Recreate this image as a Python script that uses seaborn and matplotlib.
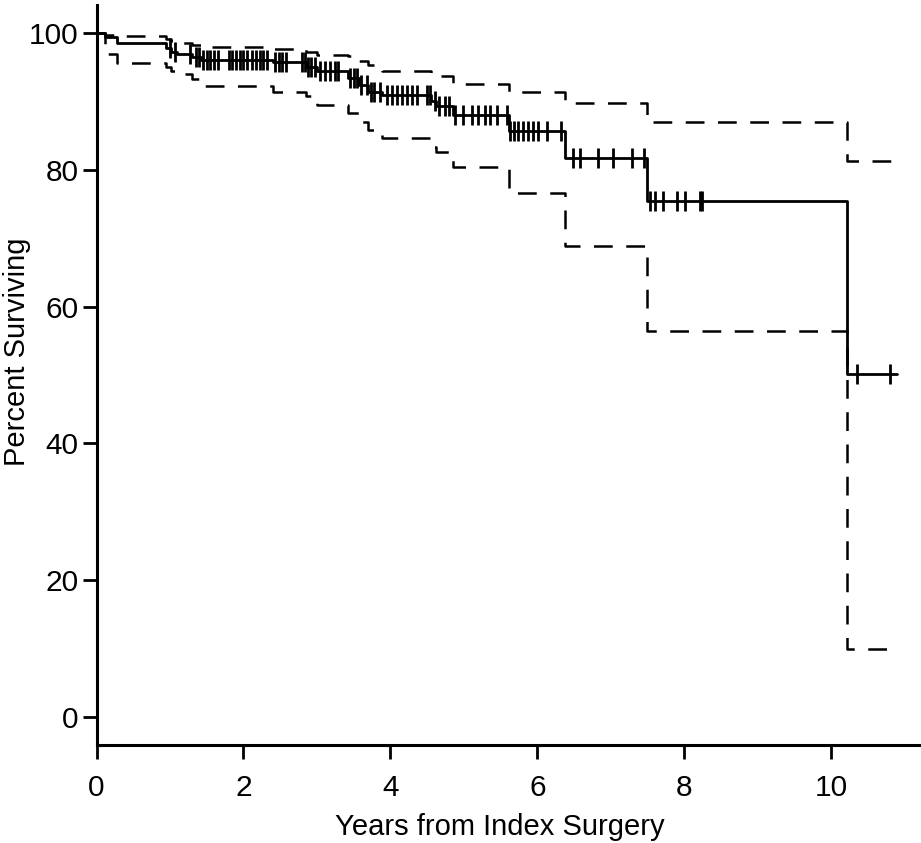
import numpy as np
import pandas as pd
import matplotlib
matplotlib.use("Agg")
import matplotlib.pyplot as plt
import seaborn as sns

# Kaplan-Meier estimate (years, percent)
event_times = [0.0, 0.12, 0.28, 0.95, 1.02, 1.10, 1.30, 1.42, 2.40, 2.85, 3.00,
               3.42, 3.57, 3.70, 3.88, 4.55, 4.62, 4.85, 5.62, 6.37, 7.49, 10.21, 10.89]
surv = [100.0, 99.4, 98.6, 97.8, 97.3, 96.9, 96.5, 96.1, 95.8, 95.1, 94.4,
        93.4, 92.4, 91.4, 90.9, 90.0, 89.3, 88.0, 85.7, 81.7, 75.4, 50.2, 50.2]
upper_ci = [100.0, 99.7, 99.6, 99.2, 98.8, 98.5, 98.3, 98.0, 97.6, 97.3, 96.8,
            96.6, 95.9, 95.3, 94.4, 94.0, 93.7, 92.6, 91.4, 89.7, 87.0, 81.3, 81.3]
lower_ci = [100.0, 97.0, 95.6, 95.0, 94.5, 94.0, 93.3, 92.3, 91.4, 90.8, 89.5,
            88.3, 87.0, 85.8, 84.6, 83.3, 82.6, 80.4, 76.6, 68.9, 56.5, 10.0, 10.0]

# censored observations (years)
censor_times = [1.00, 1.07, 1.27, 1.35, 1.40, 1.45, 1.50, 1.55, 1.60, 1.65, 1.80,
                1.85, 1.90, 1.95, 2.00, 2.05, 2.12, 2.17, 2.22, 2.27, 2.32, 2.43,
                2.48, 2.53, 2.58, 2.80, 2.84, 2.88, 2.92, 2.97, 3.04, 3.11, 3.18,
                3.24, 3.29, 3.45, 3.50, 3.55, 3.60, 3.68, 3.73, 3.78, 3.86, 3.95,
                4.02, 4.09, 4.16, 4.22, 4.29, 4.36, 4.50, 4.54, 4.60, 4.66, 4.74,
                4.80, 4.88, 4.99, 5.11, 5.19, 5.28, 5.35, 5.45, 5.58, 5.63, 5.68,
                5.73, 5.80, 5.87, 5.94, 6.01, 6.13, 6.32, 6.48, 6.58, 6.83, 7.03,
                7.29, 7.45, 7.53, 7.60, 7.71, 7.90, 8.01, 8.21, 8.24, 10.35, 10.80]

x_ticks = [0, 2, 4, 6, 8, 10]
y_ticks = [0, 20, 40, 60, 80, 100]

km = pd.DataFrame({"years": event_times, "surv": surv,
                   "upper": upper_ci, "lower": lower_ci})
idx = np.searchsorted(km["years"].values, censor_times, side="right") - 1
cens = pd.DataFrame({"years": censor_times, "surv": km["surv"].values[idx]})

sns.set_style("ticks")
plt.rcParams["font.family"] = ["Liberation Sans", "DejaVu Sans"]
plt.rcParams["text.color"] = "black"
plt.rcParams["axes.labelcolor"] = "black"
plt.rcParams["xtick.color"] = "black"
plt.rcParams["ytick.color"] = "black"

fig = plt.figure(figsize=(9.21, 8.43), dpi=100)
ax = fig.add_axes([96.5 / 921, (843 - 745) / 843, (921 - 96.5) / 921, (745 - 5) / 843])

for col in ["upper", "lower"]:
    sns.lineplot(data=km, x="years", y=col, ax=ax, color="black", lw=1.8,
                 drawstyle="steps-post", linestyle=(0, (7.5, 5.4)))
sns.lineplot(data=km, x="years", y="surv", ax=ax, color="black", lw=2.0,
             drawstyle="steps-post")
sns.scatterplot(data=cens, x="years", y="surv", ax=ax, marker="|", s=200,
                color="black", linewidth=2.0, zorder=3)

ax.set_xlim(0, 11.22)
ax.set_ylim(-4.1, 104.1)
ax.set_xticks(x_ticks)
ax.set_yticks(y_ticks)
ax.set_xlabel("Years from Index Surgery", fontsize=21)
ax.set_ylabel("Percent Surviving", fontsize=21)
ax.xaxis.set_label_coords(0.489, -0.092)
ax.yaxis.set_label_coords(-0.079, 0.531)
ax.tick_params(axis="both", labelsize=21.5, length=10, width=2.0, color="black",
               labelcolor="black")
ax.tick_params(axis="x", pad=11)
ax.tick_params(axis="y", pad=3)
for side in ["left", "bottom"]:
    ax.spines[side].set_linewidth(2.2)
    ax.spines[side].set_color("black")
sns.despine(ax=ax)

fig.savefig("out.png", dpi=100)
